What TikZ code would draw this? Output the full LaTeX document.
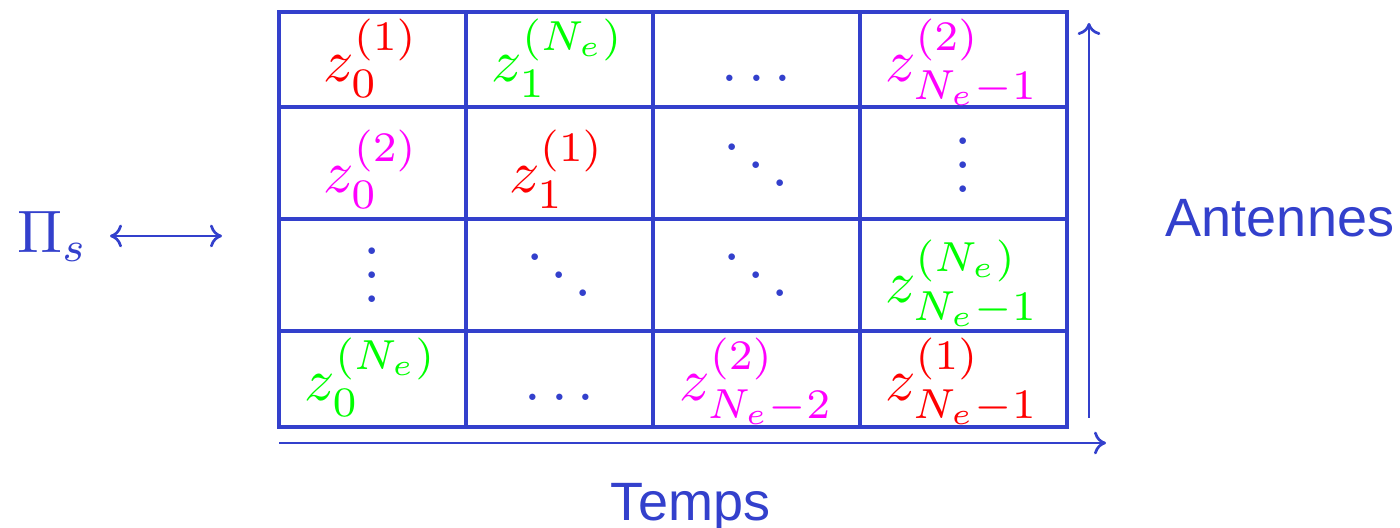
\documentclass[tikz,border=0pt]{standalone}
\usepackage{fontspec}
\newfontfamily\sansf{Liberation Sans}
\usetikzlibrary{arrows.meta}
\definecolor{blu}{RGB}{51,64,204}
\definecolor{grn}{RGB}{0,255,0}
\definecolor{mag}{RGB}{255,0,255}
\definecolor{rd}{RGB}{255,0,0}
\begin{document}
\begin{tikzpicture}[x=0.16667pt,y=-0.16667pt,
 grid/.style={draw=blu,line width=0.6pt},
 ent/.style={inner sep=0pt,anchor=base,font=\fontsize{10.4}{13}\selectfont},
 arr/.style={draw=blu,line width=0.45pt,-{To[length=2pt,width=3.8pt]}},
 dbl/.style={draw=blu,line width=0.45pt,{To[length=2pt,width=3.8pt]}-{To[length=2pt,width=3.8pt]}},
 lab/.style={inner sep=0pt,anchor=base,text=blu,font=\fontsize{9}{11}\sansf}]
\useasboundingbox (0,0) rectangle (1400,528);
% grid
\draw[grid] (279,12) rectangle (1067,427);
\draw[grid] (466,12) -- (466,427) (653,12) -- (653,427) (860,12) -- (860,427);
\draw[grid] (279,107) -- (1067,107) (279,219) -- (1067,219) (279,331) -- (1067,331);
% row 1
\node[ent,text=rd]  (a11) at (371,82) {$z_0^{(1)}$};
\node[ent,text=grn] (a12) at (558,82) {$z_1^{(N_e)}$};
\node[ent,text=blu] (a13) at (756.5,82) {$\ldots$};
\node[ent,text=mag] (a14) at (962,82) {$z_{N_e-1}^{(2)}$};
% row 2
\node[ent,text=mag] (a21) at (371,193) {$z_0^{(2)}$};
\node[ent,text=rd]  (a22) at (557,193) {$z_1^{(1)}$};
\node[ent,text=blu] (a23) at (756.5,193) {$\ddots$};
\node[ent,text=blu] (a24) at (963.5,193) {$\vdots$};
% row 3
\node[ent,text=blu] (a31) at (372.5,303) {$\vdots$};
\node[ent,text=blu] (a32) at (559.5,303) {$\ddots$};
\node[ent,text=blu] (a33) at (756.5,303) {$\ddots$};
\node[ent,text=grn] (a34) at (962,303) {$z_{N_e-1}^{(N_e)}$};
% row 4
\node[ent,text=grn] (a41) at (371,401) {$z_0^{(N_e)}$};
\node[ent,text=blu] (a42) at (559.5,401) {$\ldots$};
\node[ent,text=mag] (a43) at (756.5,401) {$z_{N_e-2}^{(2)}$};
\node[ent,text=rd]  (a44) at (962,401) {$z_{N_e-1}^{(1)}$};
% axes
\coordinate (h0) at (279,443);
\coordinate (h1) at (1106,443);
\draw[arr] (h0) -- (h1);
\coordinate (v0) at (1089,418);
\coordinate (v1) at (1089,23);
\draw[arr] (v0) -- (v1);
\node[lab] (temps) at (690.5,521) {Temps};
\node[lab] (ant) at (1280,237) {Antennes};
% Pi_s
\node[ent,text=blu,anchor=base west] (pi) at (16,253) {$\Pi_s$};
\coordinate (l0) at (110,236);
\coordinate (l1) at (222,236);
\draw[dbl] (l0) -- (l1);
\end{tikzpicture}
\end{document}
